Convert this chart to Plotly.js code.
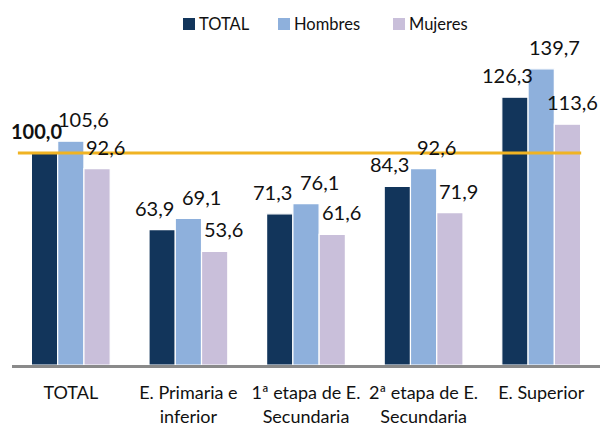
<!DOCTYPE html>
<html><head><meta charset="utf-8">
<script src="https://cdn.plot.ly/plotly-3.0.1.min.js"></script>
<style>html,body{margin:0;padding:0;background:#fff}#chart{width:602px;height:425px}</style>
</head><body><div id="chart"></div>
<script>
const categories = ["TOTAL", "E. Primaria e<br>inferior", "1ª etapa de E.<br>Secundaria", "2ª etapa de E.<br>Secundaria", "E. Superior"];
const seriesNames = ["TOTAL", "Hombres", "Mujeres"];
const totalVals = [100.0, 63.9, 71.3, 84.3, 126.3];
const hombresVals = [105.6, 69.1, 76.1, 92.6, 139.7];
const mujeresVals = [92.6, 53.6, 61.6, 71.9, 113.6];
const referenceValue = 100.0;

const colors = ["#12355B", "#8EB0DC", "#C9BFDA"];
const allVals = [totalVals, hombresVals, mujeresVals];
const FONT = "Lato, 'Open Sans', sans-serif";

const traces = allVals.map((vals, i) => ({
  type: "bar", name: seriesNames[i], x: categories, y: vals,
  marker: {color: colors[i], line: {color: "#ffffff", width: 1.2}},
  hoverinfo: "skip", showlegend: false
}));

const fmt = v => v.toFixed(1).replace(".", ",");
const xShift = [-34, 13, 35];
const annotations = [];
allVals.forEach((vals, s) => {
  vals.forEach((v, c) => {
    const bold = (s === 0 && c === 0);
    annotations.push({
      x: categories[c], y: v, xref: "x", yref: "y",
      text: bold ? "<b>" + fmt(v) + "</b>" : fmt(v),
      showarrow: false, xshift: xShift[s] - (s === 2 && c === vals.length - 1 ? 4 : 0),
      yshift: 22, yanchor: "middle", xanchor: "center",
      font: {family: FONT, size: 20, color: "#111111"}
    });
  });
});

// custom legend (pixel positions converted to paper coords)
const L = 12, W = 588, T = 40, H = 325;
const px = p => (p - L) / W, py = p => (T + H - p) / H;
const legendMarkX = [183, 278, 393];
const shapes = [{type: "line", xref: "x", yref: "y", x0: -0.45, x1: 4.34,
                 y0: referenceValue, y1: referenceValue,
                 line: {color: "#F0B323", width: 3}}];
seriesNames.forEach((n, i) => {
  shapes.push({type: "rect", xref: "paper", yref: "paper",
    x0: px(legendMarkX[i]), x1: px(legendMarkX[i] + 12), y0: py(30), y1: py(18),
    fillcolor: colors[i], line: {width: 0}});
  annotations.push({xref: "paper", yref: "paper", x: px(legendMarkX[i] + 14), y: py(24),
    xanchor: "left", yanchor: "middle", showarrow: false, text: n,
    font: {family: FONT, size: 16.5, color: "#111111"}});
});

const layout = {
  width: 602, height: 425,
  margin: {l: L, r: 602 - L - W, t: T, b: 425 - T - H},
  paper_bgcolor: "#ffffff", plot_bgcolor: "#ffffff",
  barmode: "group", bargap: 0.33, bargroupgap: 0,
  showlegend: false,
  xaxis: {type: "category", showline: true, linecolor: "#8A8A8A", linewidth: 2.5,
          ticks: "", tickfont: {family: FONT, size: 18, color: "#111111"},
          ticklabelstandoff: 10, showgrid: false, zeroline: false, range: [-0.5, 4.5]},
  yaxis: {range: [0, 153.3], visible: false, showgrid: false, zeroline: false},
  shapes: shapes,
  annotations: annotations
};

Plotly.newPlot("chart", traces, layout, {displayModeBar: false, staticPlot: true});
</script></body></html>
